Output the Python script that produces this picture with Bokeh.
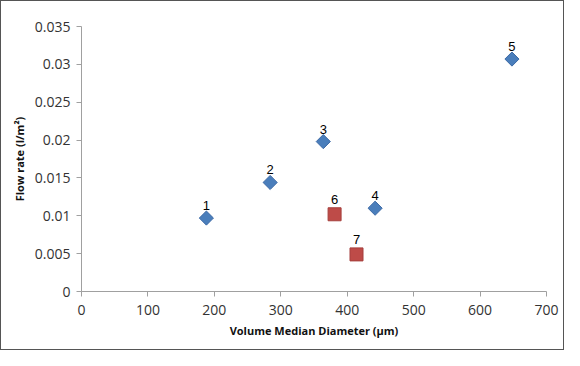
from bokeh.plotting import figure
from bokeh.models import ColumnDataSource, FixedTicker, Range1d, LabelSet
from bokeh.core.properties import value
from bokeh.embed import file_html
from bokeh.resources import INLINE
import math

blue_x = [188, 284, 364, 442, 648]
blue_y = [0.0097, 0.0144, 0.0198, 0.0110, 0.0307]
blue_lab = ["1", "2", "3", "4", "5"]
red_x = [381, 414]
red_y = [0.0102, 0.0049]
red_lab = ["6", "7"]
x_ticks = [0, 100, 200, 300, 400, 500, 600, 700]
y_ticks = [0, 0.005, 0.01, 0.015, 0.02, 0.025, 0.03, 0.035]
y_tick_labels = ["0", "0.005", "0.01", "0.015", "0.02", "0.025", "0.03", "0.035"]

p = figure(width=564, height=350, output_backend="svg", toolbar_location=None,
           x_range=Range1d(0, 700), y_range=Range1d(0, 0.035),
           min_border_left=80, min_border_right=19, min_border_top=25, min_border_bottom=60)
p.styles = {"border": "1px solid #555"}
p.outline_line_color = None
p.xgrid.visible = False
p.ygrid.visible = False

for ax in (p.xaxis[0], p.yaxis[0]):
    ax.axis_line_color = "#a0a0a0"
    ax.major_tick_line_color = "#a0a0a0"
    ax.minor_tick_line_color = None
    ax.major_tick_in = 0
    ax.major_tick_out = 5
    ax.major_label_text_font = "Open Sans"
    ax.major_label_text_font_size = "14px"
    ax.major_label_text_color = "#333333"
    ax.axis_label_text_font = "Open Sans"
    ax.axis_label_text_font_size = "11px"
    ax.axis_label_text_font_style = "bold"
    ax.axis_label_text_color = "#111111"

p.xaxis.ticker = FixedTicker(ticks=x_ticks)
p.yaxis.ticker = FixedTicker(ticks=y_ticks)
p.yaxis.major_label_overrides = {t: l for t, l in zip(y_ticks, y_tick_labels)}
p.xaxis.axis_label = "Volume Median Diameter (µm)"
p.yaxis.axis_label = "Flow rate (l/m²)"
p.xaxis.major_label_standoff = 8
p.yaxis.major_label_standoff = 6

bs = ColumnDataSource(dict(x=blue_x, y=blue_y, t=blue_lab))
rs = ColumnDataSource(dict(x=red_x, y=red_y, t=red_lab))
p.scatter("x", "y", source=bs, marker="square", angle=math.pi / 4, size=10,
          fill_color="#4a7ebb", line_color="#3d6aa6")
p.scatter("x", "y", source=rs, marker="square", size=13, fill_color="#be4b48", line_color="#a53f3c")

for src, off in ((bs, 8), (rs, 10)):
    p.add_layout(LabelSet(x="x", y="y", text="t", source=src, y_offset=off, text_align="center",
                          text_font=value("Liberation Sans"), text_font_size="13px",
                          text_color="#000000"))

open("out.html", "w").write(file_html(p, INLINE))
